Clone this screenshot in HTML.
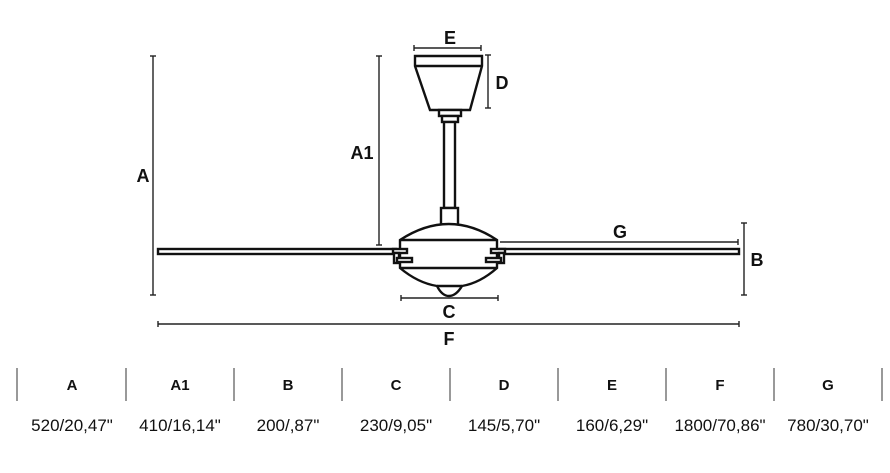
<!DOCTYPE html>
<html><head><meta charset="utf-8"><style>
html,body{margin:0;padding:0;background:#fff;width:890px;height:473px;overflow:hidden}
svg text{font-family:"Liberation Sans",sans-serif;font-weight:bold;fill:#111}
</style></head><body>
<svg width="890" height="473" viewBox="0 0 890 473" xmlns="http://www.w3.org/2000/svg">
<g fill="#fff" stroke="#111" stroke-width="2.4">
<path d="M415 56 L482 56 L482 66 L470 110 L430 110 L415 66 Z"/>
<line x1="415" y1="66" x2="482" y2="66"/>
<rect x="439" y="110" width="22" height="6"/>
<rect x="442" y="116" width="16" height="6"/>
<rect x="444" y="122" width="11" height="86"/>
<rect x="441" y="208" width="17" height="17"/>
<rect x="158" y="249" width="238" height="5"/>
<rect x="500" y="249" width="239" height="5"/>
<path d="M400 240 Q449 208 497 240 L497 268 Q480 283 462 286 Q456 296 449 296 Q442 296 437 286 Q418 283 400 268 Z"/>
<line x1="400" y1="240" x2="497" y2="240"/>
<line x1="400" y1="268" x2="497" y2="268"/>
<line x1="437" y1="286" x2="462" y2="286"/>
<rect x="393" y="249" width="14" height="4"/>
<rect x="394" y="253" width="5" height="10"/>
<rect x="397" y="258" width="15" height="4"/>
<rect x="491" y="249" width="14" height="4"/>
<rect x="499" y="253" width="5" height="10"/>
<rect x="486" y="258" width="15" height="4"/>
</g>
<g stroke="#222" stroke-width="1.4" fill="none">
<line x1="153" y1="56" x2="153" y2="295"/><line x1="150" y1="56" x2="156" y2="56"/><line x1="150" y1="295" x2="156" y2="295"/>
<line x1="379" y1="56" x2="379" y2="245"/><line x1="376" y1="56" x2="382" y2="56"/><line x1="376" y1="245" x2="382" y2="245"/>
<line x1="488" y1="55" x2="488" y2="108"/><line x1="485" y1="55" x2="491" y2="55"/><line x1="485" y1="108" x2="491" y2="108"/>
<line x1="414" y1="48" x2="481" y2="48"/><line x1="414" y1="45" x2="414" y2="51"/><line x1="481" y1="45" x2="481" y2="51"/>
<line x1="500" y1="242" x2="738" y2="242"/><line x1="738" y1="239" x2="738" y2="245"/>
<line x1="744" y1="223" x2="744" y2="295"/><line x1="741" y1="223" x2="747" y2="223"/><line x1="741" y1="295" x2="747" y2="295"/>
<line x1="401" y1="298" x2="498" y2="298"/><line x1="401" y1="295" x2="401" y2="301"/><line x1="498" y1="295" x2="498" y2="301"/>
<line x1="158" y1="324" x2="739" y2="324"/><line x1="158" y1="321" x2="158" y2="327"/><line x1="739" y1="321" x2="739" y2="327"/>
</g>
<g font-size="18">
<text x="143" y="182" text-anchor="middle">A</text>
<text x="362" y="159" text-anchor="middle">A1</text>
<text x="502" y="89" text-anchor="middle">D</text>
<text x="450" y="44" text-anchor="middle">E</text>
<text x="620" y="238" text-anchor="middle">G</text>
<text x="757" y="266" text-anchor="middle">B</text>
<text x="449" y="318" text-anchor="middle">C</text>
<text x="449" y="345" text-anchor="middle">F</text>
</g>
<g stroke="#999" stroke-width="2">
<line x1="17" y1="368" x2="17" y2="401"/><line x1="126" y1="368" x2="126" y2="401"/><line x1="234" y1="368" x2="234" y2="401"/><line x1="342" y1="368" x2="342" y2="401"/><line x1="450" y1="368" x2="450" y2="401"/><line x1="558" y1="368" x2="558" y2="401"/><line x1="666" y1="368" x2="666" y2="401"/><line x1="774" y1="368" x2="774" y2="401"/><line x1="882" y1="368" x2="882" y2="401"/>
</g>
<g font-size="15" text-anchor="middle">
<text x="72" y="390">A</text><text x="180" y="390">A1</text><text x="288" y="390">B</text><text x="396" y="390">C</text><text x="504" y="390">D</text><text x="612" y="390">E</text><text x="720" y="390">F</text><text x="828" y="390">G</text>
</g>
<g font-size="17" text-anchor="middle">
<text x="72" y="431" style="font-weight:normal">520/20,47"</text>
<text x="180" y="431" style="font-weight:normal">410/16,14"</text>
<text x="288" y="431" style="font-weight:normal">200/,87"</text>
<text x="396" y="431" style="font-weight:normal">230/9,05"</text>
<text x="504" y="431" style="font-weight:normal">145/5,70"</text>
<text x="612" y="431" style="font-weight:normal">160/6,29"</text>
<text x="720" y="431" style="font-weight:normal">1800/70,86"</text>
<text x="828" y="431" style="font-weight:normal">780/30,70"</text>
</g>
</svg>
</body></html>
